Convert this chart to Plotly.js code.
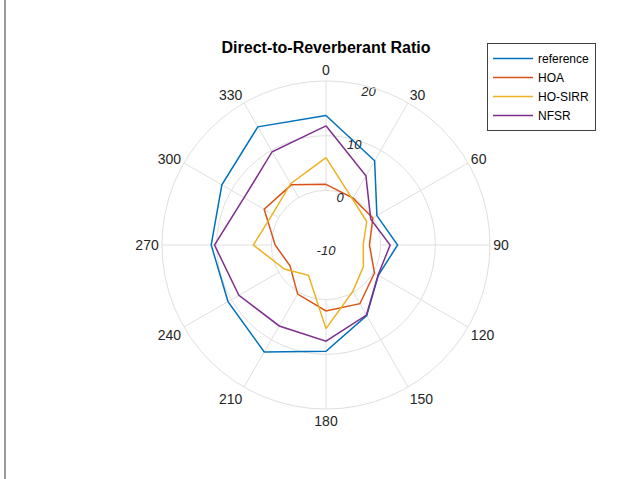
<!DOCTYPE html>
<html>
<head>
<meta charset="utf-8">
<script src="https://cdn.plot.ly/plotly-3.0.1.min.js"></script>
<style>
  html, body { margin: 0; padding: 0; background: #fff; }
  #chart { width: 635px; height: 479px; }
</style>
</head>
<body>
<div id="chart"></div>
<script>
// Direction angles (degrees, clockwise from front)
const angles = [0, 30, 60, 90, 120, 150, 180, 210, 240, 270, 300, 330];
const angleLabels = ['0', '30', '60', '90', '120', '150', '180', '210', '240', '270', '300', '330'];

// Direct-to-reverberant ratio per direction (dB)
const drrReference = [13.7, 7.8, 0.75, 3.1, 1.06, 4.9, 9.45, 12.6, 10.7, 11.0, 12.0, 14.95];
const drrHOA       = [1.1, -0.1, -0.1, -2.05, 0.24, 2.4, 2.05, 0.37, -2.4, -0.7, 3.06, 2.7];
const drrHOSIRR    = [6.0, -0.3, -1.4, -3.2, -2.1, -0.2, 5.3, -3.6, -1.2, 3.3, 1.3, 2.95];
const drrNFSR      = [11.8, 4.6, -0.55, 1.74, 1.0, 4.8, 7.6, 7.1, 8.4, 10.4, 7.3, 9.7];

// Radial axis ticks (dB)
const radialTicks = [-10, 0, 10, 20];
const radialLabels = ['-10', '0', '10', '20'];

const seriesNames = ['reference', 'HOA', 'HO-SIRR', 'NFSR'];
const seriesData = [drrReference, drrHOA, drrHOSIRR, drrNFSR];
const seriesColors = ['#0072BD', '#D95319', '#EDB120', '#7E2F8E'];

const gridColor = '#dfdfdf';
const rMin = radialTicks[0];
const rMax = radialTicks[radialTicks.length - 1];
const rLabelAngle = 15;   // direction along which the radial tick labels sit

// Angular spokes start at the first ring above the centre
const spokes = angles.map(a => ({
  type: 'scatterpolar',
  mode: 'lines',
  r: [radialTicks[1], rMax],
  theta: [a, a],
  line: { color: gridColor, width: 1 },
  hoverinfo: 'skip',
  showlegend: false
}));

const close = arr => arr.concat([arr[0]]);

const series = seriesNames.map((name, i) => ({
  type: 'scatterpolar',
  mode: 'lines',
  name: name,
  r: close(seriesData[i]),
  theta: close(angles),
  line: { color: seriesColors[i], width: 1.5 }
}));

// Radial tick labels, hung just below their rings along one direction
const radialTickText = {
  type: 'scatterpolar',
  mode: 'text',
  r: radialTicks,
  theta: radialTicks.map(() => rLabelAngle),
  text: radialLabels,
  textposition: 'bottom center',
  textfont: { family: 'Liberation Sans, Arial, sans-serif', size: 13, style: 'italic', color: '#262626' },
  hoverinfo: 'skip',
  showlegend: false,
  cliponaxis: false
};

const W = 635, H = 479;
const cx = 326, cy = 245, R = 164;

const layout = {
  width: W,
  height: H,
  autosize: false,
  margin: { l: 0, r: 0, t: 0, b: 0, pad: 0 },
  paper_bgcolor: '#ffffff',
  font: { family: 'Liberation Sans, Arial, sans-serif', color: '#262626' },
  title: {
    text: 'Direct-to-Reverberant Ratio',
    x: cx / W,
    xanchor: 'center',
    xref: 'paper',
    y: 1 - 47 / H,
    yanchor: 'middle',
    yref: 'paper',
    font: { family: 'Liberation Sans, Arial, sans-serif', size: 16, weight: 'bold', color: '#000000' }
  },
  showlegend: true,
  legend: {
    x: 487 / W,
    y: 1 - 43 / H,
    xanchor: 'left',
    yanchor: 'top',
    bgcolor: '#ffffff',
    bordercolor: '#404040',
    borderwidth: 1,
    itemwidth: 40,
    font: { family: 'Liberation Sans, Arial, sans-serif', size: 12, color: '#000000' },
    tracegroupgap: 0
  },
  polar: {
    domain: {
      x: [(cx - R) / W, (cx + R) / W],
      y: [1 - (cy + R) / H, 1 - (cy - R) / H]
    },
    bgcolor: '#ffffff',
    angularaxis: {
      rotation: 90,
      direction: 'clockwise',
      tickmode: 'array',
      tickvals: angles,
      ticktext: angleLabels,
      showgrid: false,
      ticks: '',
      showline: true,
      linecolor: gridColor,
      linewidth: 1,
      tickfont: { family: 'Liberation Sans, Arial, sans-serif', size: 14, color: '#262626' }
    },
    radialaxis: {
      range: [rMin, rMax],
      tickmode: 'array',
      tickvals: radialTicks,
      showticklabels: false,
      showline: false,
      ticks: '',
      gridcolor: gridColor,
      gridwidth: 1
    }
  },
  shapes: [{
    type: 'line',
    xref: 'paper', yref: 'paper',
    x0: 5 / W, x1: 5 / W, y0: 0, y1: 1,
    line: { color: '#3a3a3a', width: 1 }
  }]
};

Plotly.newPlot('chart', spokes.concat(series, [radialTickText]), layout, { displayModeBar: false, staticPlot: true });
</script>
</body>
</html>
